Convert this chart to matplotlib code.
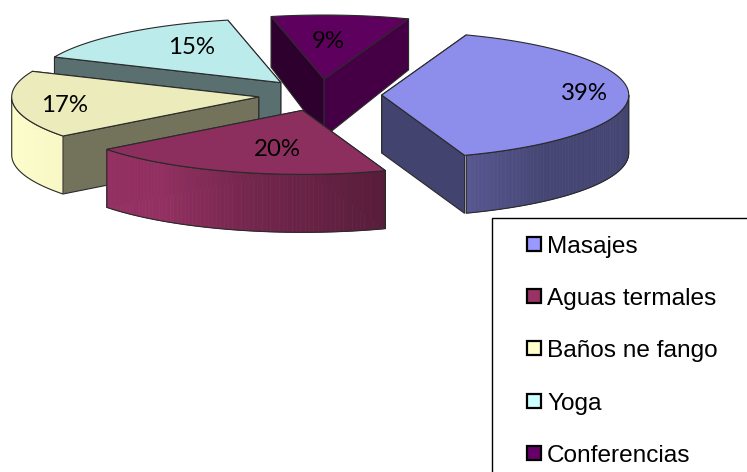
import numpy as np
import matplotlib
matplotlib.use("Agg")
import matplotlib.pyplot as plt
from matplotlib.patches import Polygon, Rectangle

categories = ["Masajes", "Aguas termales", "Baños ne fango", "Yoga", "Conferencias"]
values = [39, 20, 17, 15, 9]
pct_labels = ["39%", "20%", "17%", "15%", "9%"]
colors = ["#9999ff", "#993366", "#ffffcc", "#ccffff", "#660066"]

CX, CY, RX, RY = 320.0, 95.0, 247.0, 64.0
START = 20.0
EXPLODE = 0.25
LABEL_POS = [(584, 94), (277, 149), (65, 105), (192, 48), (328, 42)]
DRAW_ORDER = [4, 3, 2, 0, 1]
FACE_START = [0.45, 0.45, 0.45, 0.44, 0.45]
FACE_END = [0.44, 0.45, 0.45, 0.44, 0.68]
EDGE = "#2a2a2a"


def shade(color, f):
    return tuple(min(1, c * f) for c in matplotlib.colors.to_rgb(color))


def wall_factor(theta):
    t = ((theta - 90) % 360) + 90
    return np.interp(t, [90, 140, 160, 190, 215, 270], [0.44, 0.46, 0.57, 0.74, 0.96, 1.0])


def depth(y):
    return np.minimum(58.0, 51.0 + 7.0 * (y - 19.0) / 60.0)


fig = plt.figure(figsize=(7.47, 4.72), dpi=100)
ax = fig.add_axes([0, 0, 1, 1])
ax.set_xlim(0, 747)
ax.set_ylim(472, 0)
ax.axis("off")

fractions = np.array(values) / np.sum(values) * 360.0
starts = START + np.concatenate([[0], np.cumsum(fractions)[:-1]])


def rim(ox, oy, a):
    r = np.radians(a)
    return ox + RX * np.sin(r), oy - RY * np.cos(r)


for i in DRAW_ORDER:
    a0, a1 = starts[i], starts[i] + fractions[i]
    mid = np.radians((a0 + a1) / 2)
    ox = CX + EXPLODE * RX * np.sin(mid)
    oy = CY - EXPLODE * RY * np.cos(mid)
    base = colors[i]
    z = 2 + DRAW_ORDER.index(i)

    faces = []
    for a, f in ((a0, FACE_START[i]), (a1, FACE_END[i])):
        x, y = rim(ox, oy, a)
        poly = [(ox, oy), (x, y), (x, y + depth(y)), (ox, oy + depth(oy))]
        faces.append(((oy + y) / 2, poly, f))
    for _, poly, f in sorted(faces, key=lambda q: q[0]):
        ax.add_patch(Polygon(poly, closed=True, fc=shade(base, f), ec=EDGE, lw=0.8, zorder=z))

    # outer wall (front half only)
    lo, hi = None, None
    angs = np.arange(a0, a1 + 0.5, 1.0)
    angs = angs[(((angs) % 360) >= 90) & (((angs) % 360) <= 270)]
    if len(angs) > 1:
        xs, ys = rim(ox, oy, angs)
        yb = ys + depth(ys)
        for k in range(len(angs) - 1):
            q = [(xs[k], ys[k]), (xs[k + 1], ys[k + 1]), (xs[k + 1], yb[k + 1]), (xs[k], yb[k])]
            c = shade(base, wall_factor((angs[k] + angs[k + 1]) / 2))
            ax.add_patch(Polygon(q, closed=True, fc=c, ec=c, lw=0.5, zorder=z))
        outline = list(zip(xs, ys)) + list(zip(xs[::-1], yb[::-1]))
        ax.add_patch(Polygon(outline, closed=True, fc="none", ec=EDGE, lw=0.8, zorder=z))

    # top surface
    angs = np.linspace(a0, a1, 120)
    xs, ys = rim(ox, oy, angs)
    top = [(ox, oy)] + list(zip(xs, ys))
    ax.add_patch(Polygon(top, closed=True, fc=shade(base, 0.92), ec=EDGE, lw=0.8, zorder=z))

for lab, (x, y) in zip(pct_labels, LABEL_POS):
    ax.text(x, y, lab, fontsize=17.3, family="Lato", color="black",
            ha="center", va="center", zorder=20)

# legend
ax.add_patch(Rectangle((491.5, 217.5), 270, 270, fc="white", ec="black", lw=1.0, zorder=21))
for k, (name, col) in enumerate(zip(categories, colors)):
    yc = 244 + k * 52.2
    ax.add_patch(Rectangle((527, yc - 7), 14, 14, fc=col, ec="black", lw=1.6, zorder=22))
    ax.text(547, yc + 9, name, fontsize=17.6, family="Liberation Sans", color="black",
            ha="left", va="baseline", zorder=22)

fig.savefig("out.png", dpi=100)
